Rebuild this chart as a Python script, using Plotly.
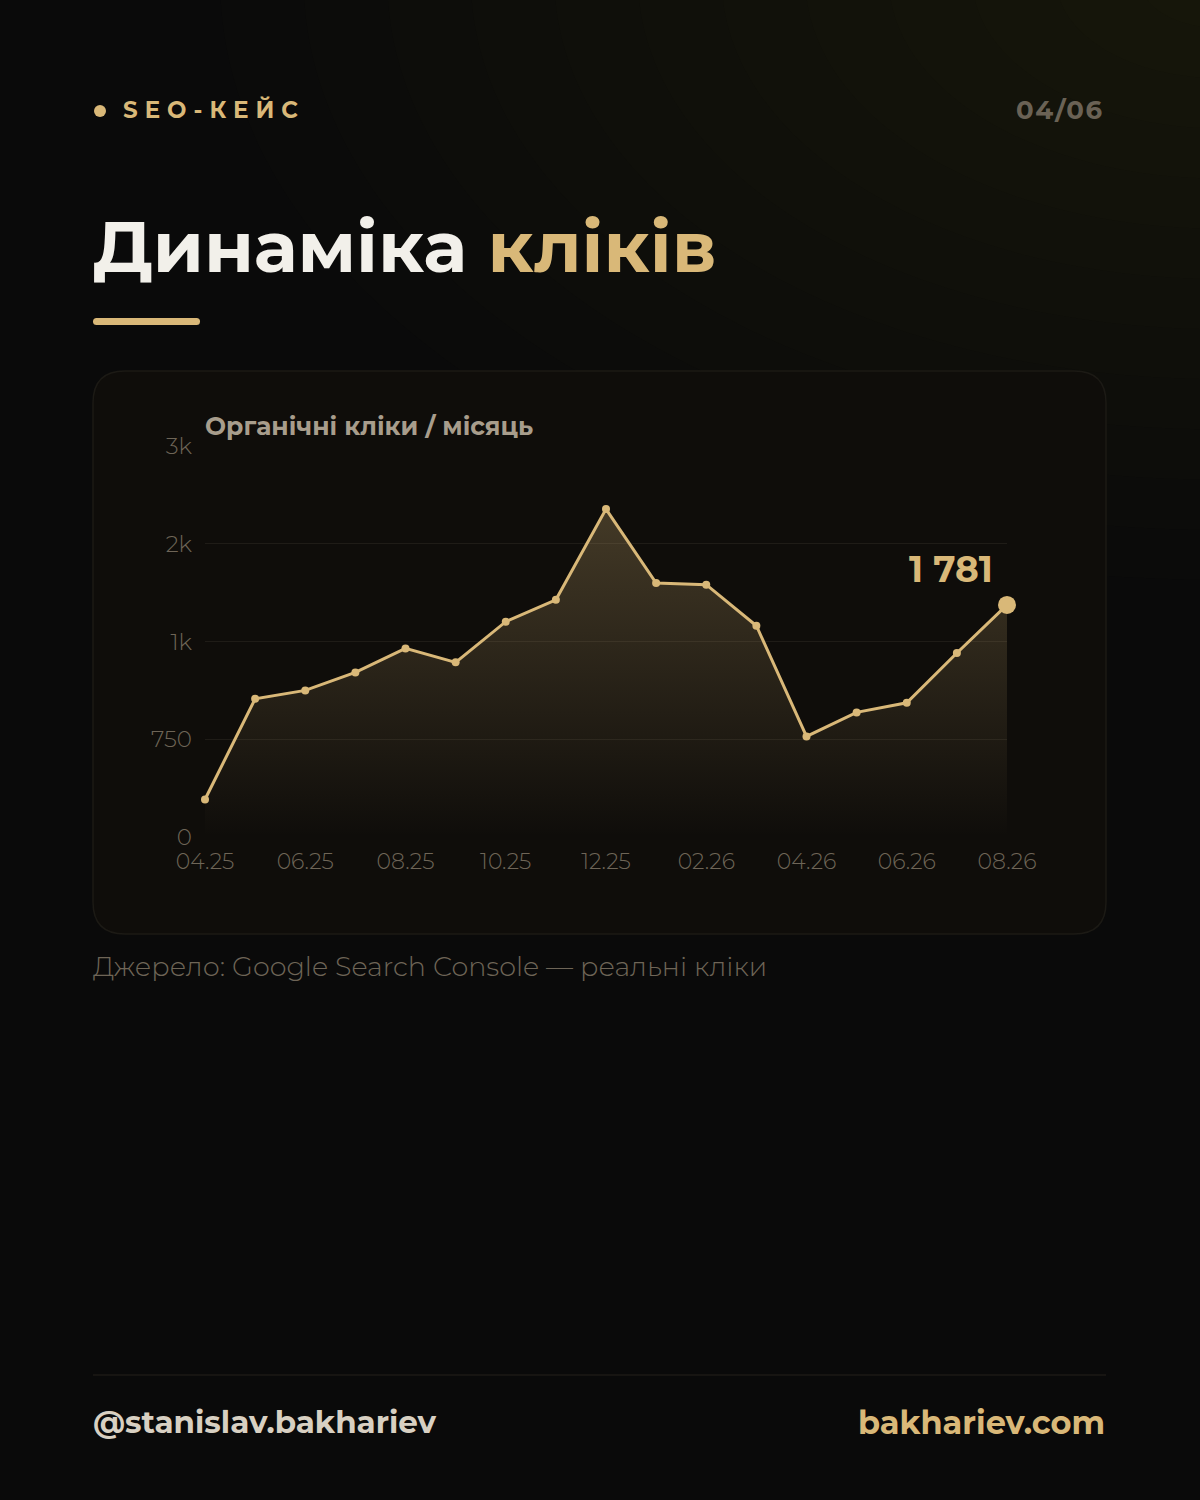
import plotly.graph_objects as go

months = ["04.25", "05.25", "06.25", "07.25", "08.25", "09.25", "10.25", "11.25", "12.25",
          "01.26", "02.26", "03.26", "04.26", "05.26", "06.26", "07.26", "08.26"]
clicks = [288, 1060, 1125, 1263, 1447, 1340, 1652, 1820, 2516,
          1949, 1936, 1621, 772, 956, 1030, 1412, 1781]
y_tickvals = [0, 750, 1500, 2250, 3000]
y_ticktext = ["0", "750", "1k", "2k", "3k"]
x_tick_labels = months[::2]

GOLD = "#d9b878"
BG = "#0a0a0a"
CARD = "#0f0d0a"
GRID = "#1f1c17"
MUTED = "#6e6557"
FONT = "Montserrat, Lato, 'Open Sans', sans-serif"

W, H = 1200, 1500
L, R, T, B = 205, 1007, 446, 837


def px(x):
    return (x - L) / (R - L)


def py(y):
    return (B - y) / (B - T)


def rounded_rect(x0, y0, x1, y1, r):
    X0, X1 = px(x0), px(x1)
    Y0, Y1 = py(y0), py(y1)
    rx = r / (R - L)
    ry = r / (B - T)
    return (f"M {X0+rx},{Y0} L {X1-rx},{Y0} Q {X1},{Y0} {X1},{Y0-ry} "
            f"L {X1},{Y1+ry} Q {X1},{Y1} {X1-rx},{Y1} L {X0+rx},{Y1} "
            f"Q {X0},{Y1} {X0},{Y1+ry} L {X0},{Y0-ry} Q {X0},{Y0} {X0+rx},{Y0} Z")


fig = go.Figure()

fig.add_trace(go.Scatter(
    x=list(range(len(months))), y=clicks,
    mode="lines+markers",
    line=dict(color=GOLD, width=3),
    marker=dict(color=GOLD, size=[8] * (len(clicks) - 1) + [18], line=dict(width=0), opacity=1),
    fill="tozeroy",
    fillgradient=dict(type="vertical",
                      colorscale=[[0, "rgba(217,184,120,0.0)"], [1, "rgba(217,184,120,0.26)"]],
                      start=0, stop=max(clicks)),
    cliponaxis=False,
    hoverinfo="skip",
))

shapes = []
# background glow top-right (soft, faint layers)
n = 12
for i in range(n):
    rad = 1000 - i * (1000 - 80) / (n - 1)
    shapes.append(dict(type="circle", xref="paper", yref="paper", layer="below",
                       x0=px(1220 - rad), x1=px(1220 + rad), y0=py(-20 - rad * 0.6), y1=py(-20 + rad * 0.6),
                       fillcolor="rgba(60,52,38,0.04)", line=dict(width=0)))
# card
shapes.append(dict(type="path", xref="paper", yref="paper", layer="below",
                   path=rounded_rect(93, 371, 1106, 934, 32),
                   fillcolor=CARD, line=dict(color="#1c1a15", width=1.5)))
# title underline
shapes.append(dict(type="path", xref="paper", yref="paper",
                   path=rounded_rect(93, 318, 200, 325, 3.5),
                   fillcolor=GOLD, line=dict(width=0)))
# dot
shapes.append(dict(type="circle", xref="paper", yref="paper",
                   x0=px(94), x1=px(106), y0=py(105), y1=py(117),
                   fillcolor=GOLD, line=dict(width=0)))
# footer line
shapes.append(dict(type="line", xref="paper", yref="paper",
                   x0=px(93), x1=px(1106), y0=py(1375), y1=py(1375),
                   line=dict(color="#1c1a16", width=1.5)))

ann = []
ann.append(dict(x=px(121), y=py(110), xref="paper", yref="paper", xanchor="left", yanchor="middle",
                text="<span style='letter-spacing:7px'><b>SEO-КЕЙС</b></span>", showarrow=False,
                font=dict(family=FONT, size=23, color=GOLD)))
ann.append(dict(x=px(1106), y=py(110), xref="paper", yref="paper", xanchor="right", yanchor="middle",
                text="<span style='letter-spacing:1.5px'><b>04/06</b></span>", showarrow=False,
                font=dict(family=FONT, size=26, color="#6a6255")))
ann.append(dict(x=px(91), y=py(246), xref="paper", yref="paper", xanchor="left", yanchor="middle",
                text=f"<b>Динаміка <span style='color:{GOLD}'>кліків</span></b>", showarrow=False,
                font=dict(family=FONT, size=72, color="#f2f0ea")))
ann.append(dict(x=px(203), y=py(426), xref="paper", yref="paper", xanchor="left", yanchor="middle",
                text="<b>Органічні кліки / місяць</b>", showarrow=False,
                font=dict(family=FONT, size=25, color="#a89d8c")))
ann.append(dict(x=len(months) - 1, y=clicks[-1], xref="x", yref="y", xanchor="right", yanchor="bottom",
                xshift=-12, yshift=12,
                text=f"<b>{clicks[-1]:,}</b>".replace(",", " "), showarrow=False,
                font=dict(family=FONT, size=36, color=GOLD)))
ann.append(dict(x=px(91), y=py(966), xref="paper", yref="paper", xanchor="left", yanchor="middle",
                text="Джерело: Google Search Console — реальні кліки", showarrow=False,
                font=dict(family=FONT, size=27, color=MUTED, weight=300)))
ann.append(dict(x=px(91), y=py(1422), xref="paper", yref="paper", xanchor="left", yanchor="middle",
                text="<b>@stanislav.bakhariev</b>", showarrow=False,
                font=dict(family=FONT, size=31, color="#d8d0c2")))
ann.append(dict(x=px(1107), y=py(1422), xref="paper", yref="paper", xanchor="right", yanchor="middle",
                text="<b>bakhariev.com</b>", showarrow=False,
                font=dict(family=FONT, size=32, color=GOLD)))

fig.update_layout(
    width=W, height=H,
    margin=dict(l=L, r=W - R, t=T, b=H - B, autoexpand=False),
    paper_bgcolor=BG, plot_bgcolor="rgba(0,0,0,0)",
    showlegend=False,
    shapes=shapes, annotations=ann,
    font=dict(family=FONT),
    xaxis=dict(range=[0, len(months) - 1], tickvals=list(range(0, len(months), 2)),
               ticktext=x_tick_labels, showgrid=False, zeroline=False, showline=False,
               tickfont=dict(size=22, color=MUTED, family=FONT, weight=300),
               ticks="", ticklabelstandoff=9, fixedrange=True),
    yaxis=dict(range=[0, 3000], tickvals=y_tickvals, ticktext=y_ticktext,
               showgrid=True, gridcolor=GRID, gridwidth=1, zeroline=False, showline=False,
               tickfont=dict(size=23, color=MUTED, family=FONT, weight=300),
               ticks="", ticklabelstandoff=12, fixedrange=True),
)

fig.write_html("out.html", config={"displayModeBar": False},
               post_script="document.body.style.margin='0';document.body.style.background='#0a0a0a';")
